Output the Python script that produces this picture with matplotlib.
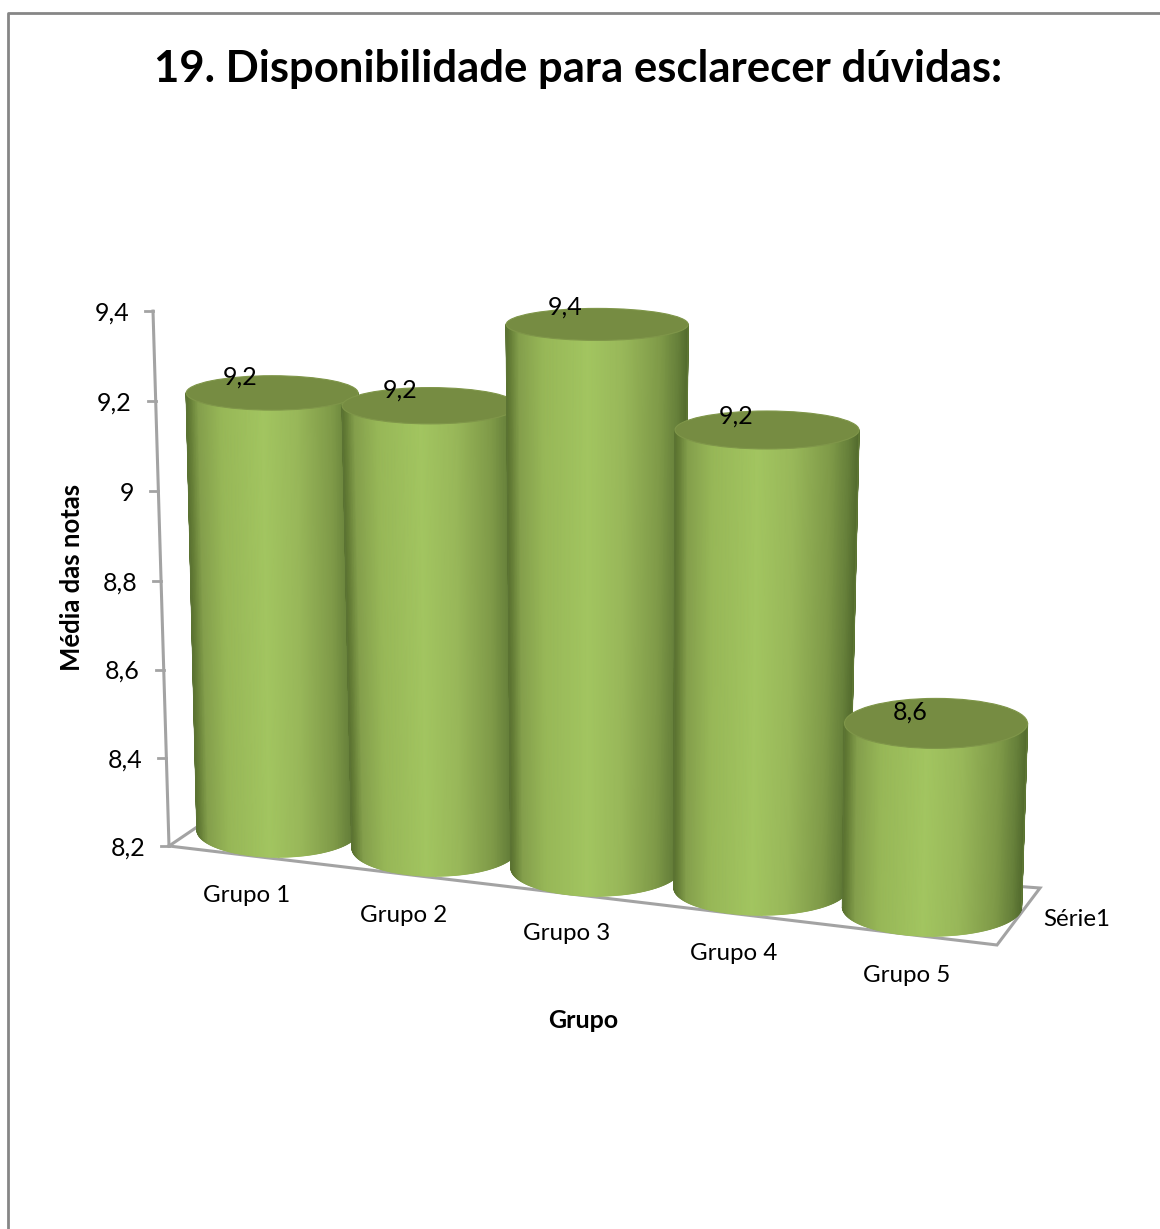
import numpy as np
import matplotlib
matplotlib.use('Agg')
import matplotlib.pyplot as plt
from matplotlib.colors import LinearSegmentedColormap
from matplotlib.collections import LineCollection
from matplotlib.patches import Ellipse

grupos = ['Grupo 1', 'Grupo 2', 'Grupo 3', 'Grupo 4', 'Grupo 5']
medias = [9.18, 9.185, 9.40, 9.20, 8.60]
y_ticks = [8.2, 8.4, 8.6, 8.8, 9.0, 9.2, 9.4]
base = 8.2

# the 3d look is only faked: where each cylinder foot lands on the page
foot_x = [278, 435, 596, 761, 932]
foot_y = [830, 848, 868, 888, 907]
foot_rx = [81, 83, 85, 87, 89.5]
foot_ry = [27, 28, 28, 27, 29]
ry_drop = [10, 10, 10, 8, 10]
lean = [-6, -5, 1, 6, 10]
scale = [446, 449, 453, 458, 459]
label_off = [(-32, -17), (-30, -17), (-32, -18), (-31, -15), (-26, -12)]
cat_pos = [(247, 895), (404, 914), (567, 933), (734, 953), (907, 974)]

side_cmap = LinearSegmentedColormap.from_list('side', [
    (0.00, '#546c2e'), (0.05, '#66803a'), (0.15, '#7f9a48'), (0.35, '#98b759'),
    (0.55, '#a2c560'), (0.80, '#97b757'), (0.93, '#849f4c'), (0.98, '#647d36'),
    (1.00, '#5a7230')])
grey = '#a3a3a3'

plt.rcParams['font.family'] = ['Lato', 'DejaVu Sans']

fig = plt.figure(figsize=(11.6, 12.29), dpi=100)
ax = fig.add_axes([0, 0, 1, 1])
ax.set_xlim(0, 1160)
ax.set_ylim(1229, 0)
ax.axis('off')


def wall_y(v):
    d = v - base
    return 846 - 438.8 * d - 5.8 * d ** 2


def wall_x(v):
    return 169 - (846 - wall_y(v)) * 16 / 535


def cylinder(i, v):
    h = v - base
    cx, cy = foot_x[i], foot_y[i]
    rx, ry = foot_rx[i], foot_ry[i]
    tx = cx + lean[i] * h
    ty = cy - scale[i] * h
    trx = rx + 5 * h
    tryy = ry - ry_drop[i] * h

    theta = np.linspace(np.pi, 0, 240)
    X = np.vstack([tx + trx * np.cos(theta), cx + rx * np.cos(theta)])
    Y = np.vstack([ty + tryy * np.sin(theta), cy + ry * np.sin(theta)])
    C = np.vstack([(1 - np.cos(theta)) / 2] * 2)
    z = 3 + i
    ax.pcolormesh(X, Y, C, shading='gouraud', cmap=side_cmap, vmin=0, vmax=1, zorder=z)

    # gouraud has no antialiasing, so run a thin line round the foot
    pts = np.column_stack([X[1], Y[1]])
    segs = np.stack([pts[:-1], pts[1:]], axis=1)
    ax.add_collection(LineCollection(segs, array=C[1][:-1], cmap=side_cmap, clim=(0, 1),
                                     linewidths=1.0, zorder=z))
    ax.plot(X[:, 0], Y[:, 0], color='#5c7434', lw=1.0, zorder=z)
    ax.plot(X[:, -1], Y[:, -1], color='#5f7834', lw=1.0, zorder=z)
    ax.add_patch(Ellipse((tx, ty), 2 * trx, 2 * tryy, facecolor='#768c42',
                         edgecolor='#7f9649', lw=0.8, zorder=z + 0.1))
    return tx, ty


# frame
ax.plot([8, 8, 1160], [1229, 13, 13], color='#868686', lw=2, zorder=1)

# floor
ax.plot([169, 997, 1040, 200, 169], [846, 945, 888, 825, 846], color=grey, lw=2.2, zorder=2,
        solid_joinstyle='miter')

# value axis
ax.plot([wall_x(y_ticks[-1]), wall_x(base)], [wall_y(y_ticks[-1]), wall_y(base)],
        color=grey, lw=2.2, zorder=2)
for t in y_ticks:
    ax.plot([wall_x(t) - 8, wall_x(t)], [wall_y(t), wall_y(t)], color=grey, lw=2, zorder=2)
    ax.text(wall_x(t) - 24, wall_y(t) + 2, ('%g' % t).replace('.', ','), ha='right', va='center',
            fontsize=18, color='black', zorder=10)

for i, v in enumerate(medias):
    tx, ty = cylinder(i, v)
    dx, dy = label_off[i]
    ax.text(tx + dx, ty + dy + 1, ('%.1f' % v).replace('.', ','), ha='center', va='center',
            fontsize=18, color='black', zorder=10)

for name, (px, py) in zip(grupos, cat_pos):
    ax.text(px, py + 1, name, ha='center', va='center', fontsize=17.4, color='black', zorder=10)
ax.text(1077, 919, 'Série1', ha='center', va='center', fontsize=17.4, color='black', zorder=10)

ax.text(578, 69, '19. Disponibilidade para esclarecer dúvidas:', ha='center', va='center',
        fontsize=31.4, fontweight='bold', color='black')
ax.text(583, 1021, 'Grupo', ha='center', va='center', fontsize=18, fontweight='bold')
ax.text(72, 577, 'Média das notas', ha='center', va='center', rotation=90, fontsize=18.5,
        fontweight='bold')

fig.savefig('out.png', dpi=100)
